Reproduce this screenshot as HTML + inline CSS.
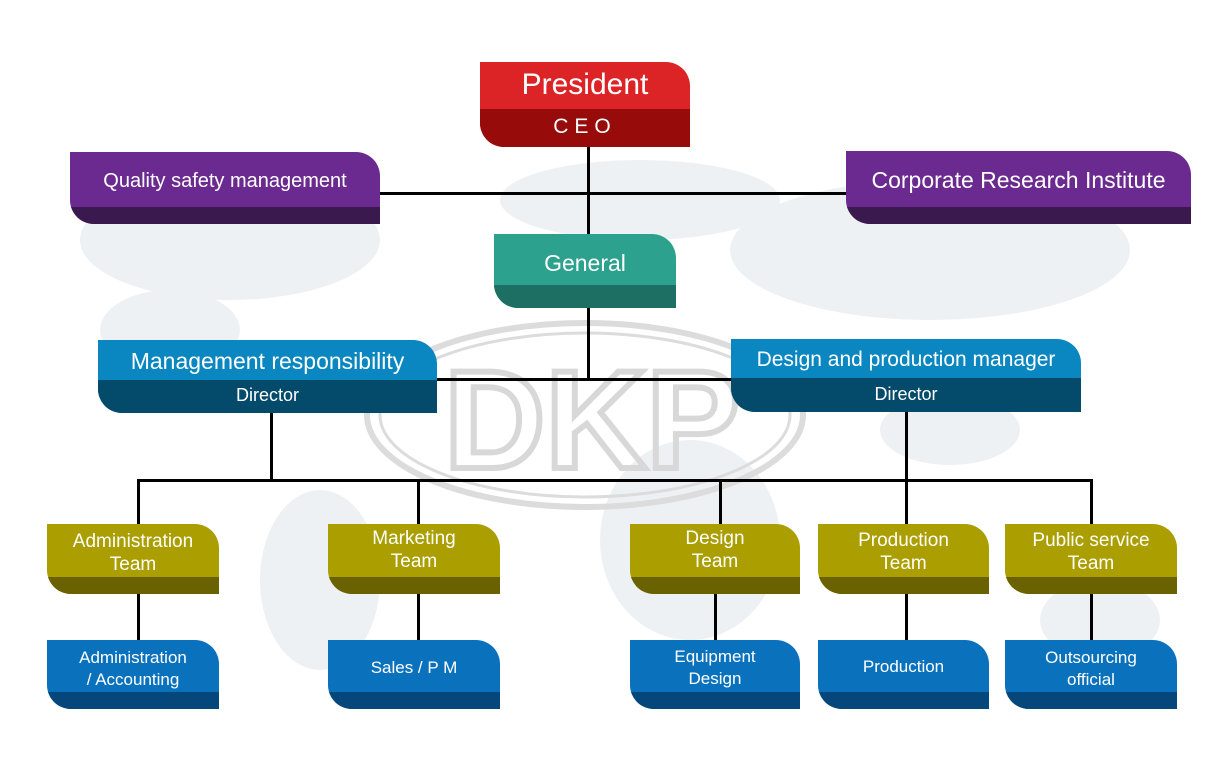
<!DOCTYPE html>
<html><head><style>
body{margin:0;width:1224px;height:770px;background:#fff;position:relative;overflow:hidden;font-family:"Liberation Sans",sans-serif}
.b{position:absolute;border-radius:0 24px 0 24px;overflow:hidden;color:#fff;text-align:center}
.b .t{position:absolute;left:0;right:0;top:0}
.b .s{position:absolute;left:0;right:0;bottom:0}
.l{position:absolute;background:#000}
</style></head><body>
<svg width="1224" height="770" style="position:absolute;left:0;top:0">
<g fill="#eef1f4">
<ellipse cx="230" cy="240" rx="150" ry="60"/><ellipse cx="170" cy="330" rx="70" ry="40"/>
<ellipse cx="320" cy="580" rx="60" ry="90"/><ellipse cx="640" cy="200" rx="140" ry="40"/>
<ellipse cx="690" cy="540" rx="90" ry="100"/><ellipse cx="930" cy="250" rx="200" ry="70"/>
<ellipse cx="1100" cy="620" rx="60" ry="40"/><ellipse cx="950" cy="430" rx="70" ry="35"/>
</g>
<g fill="none" stroke="#dcdcdc" stroke-width="6">
<ellipse cx="585" cy="415" rx="218" ry="92"/>
<ellipse cx="585" cy="415" rx="205" ry="82" stroke-width="3"/>
</g>
<text x="592" y="468" font-family="Liberation Sans" font-weight="bold" font-size="140" fill="none" stroke="#d8d8d8" stroke-width="6" text-anchor="middle">DKP</text>
</svg>
<div class="l" style="left:587px;top:147px;width:3px;height:88px"></div>
<div class="l" style="left:380px;top:192px;width:466px;height:3px"></div>
<div class="l" style="left:587px;top:308px;width:3px;height:72px"></div>
<div class="l" style="left:437px;top:378px;width:294px;height:3px"></div>
<div class="l" style="left:270px;top:413px;width:3px;height:68px"></div>
<div class="l" style="left:905px;top:412px;width:3px;height:69px"></div>
<div class="l" style="left:137px;top:479px;width:956px;height:3px"></div>
<div class="l" style="left:137px;top:479px;width:3px;height:161px"></div>
<div class="l" style="left:417px;top:479px;width:3px;height:161px"></div>
<div class="l" style="left:719px;top:479px;width:3px;height:46px"></div>
<div class="l" style="left:714px;top:594px;width:3px;height:46px"></div>
<div class="l" style="left:905px;top:479px;width:3px;height:161px"></div>
<div class="l" style="left:1090px;top:479px;width:3px;height:161px"></div>

<div class="b" style="left:480px;top:62px;width:210px;height:85px;background:#dc2326"><div class="t" style="top:6px;font-size:30px">President</div><div class="s" style="height:38px;background:#970b0b;font-size:21px;line-height:36px;letter-spacing:6px">CEO</div></div>
<div class="b" style="left:70px;top:152px;width:310px;height:72px;background:#6a2a8f"><div class="t" style="top:18px;font-size:20px">Quality safety management</div><div class="s" style="height:17px;background:#3a1a4e"></div></div>
<div class="b" style="left:846px;top:151px;width:345px;height:73px;background:#6a2a8f"><div class="t" style="top:16px;font-size:23px">Corporate Research Institute</div><div class="s" style="height:17px;background:#3a1a4e"></div></div>
<div class="b" style="left:494px;top:234px;width:182px;height:74px;background:#2ca18e"><div class="t" style="top:16px;font-size:23px">General</div><div class="s" style="height:23px;background:#1d6f63"></div></div>
<div class="b" style="left:98px;top:340px;width:339px;height:73px;background:#0a86c0"><div class="t" style="top:8px;font-size:23px">Management responsibility</div><div class="s" style="height:33px;background:#044a6a;font-size:18px;line-height:30px">Director</div></div>
<div class="b" style="left:731px;top:339px;width:350px;height:73px;background:#0a86c0"><div class="t" style="top:9px;font-size:21px">Design and production manager</div><div class="s" style="height:34px;background:#044a6a;font-size:18px;line-height:32px">Director</div></div>

<div class="b" style="left:47px;top:524px;width:172px;height:70px;background:#aa9e00"><div class="t" style="top:6px;font-size:19px;line-height:23px">Administration<br>Team</div><div class="s" style="height:17px;background:#6a6200"></div></div>
<div class="b" style="left:328px;top:524px;width:172px;height:70px;background:#aa9e00"><div class="t" style="top:3px;font-size:19px;line-height:23px">Marketing<br>Team</div><div class="s" style="height:17px;background:#6a6200"></div></div>
<div class="b" style="left:630px;top:524px;width:170px;height:70px;background:#aa9e00"><div class="t" style="top:3px;font-size:19px;line-height:23px">Design<br>Team</div><div class="s" style="height:17px;background:#6a6200"></div></div>
<div class="b" style="left:818px;top:524px;width:171px;height:70px;background:#aa9e00"><div class="t" style="top:5px;font-size:19px;line-height:23px">Production<br>Team</div><div class="s" style="height:17px;background:#6a6200"></div></div>
<div class="b" style="left:1005px;top:524px;width:172px;height:70px;background:#aa9e00"><div class="t" style="top:5px;font-size:19px;line-height:23px">Public service<br>Team</div><div class="s" style="height:17px;background:#6a6200"></div></div>

<div class="b" style="left:47px;top:640px;width:172px;height:69px;background:#0a72bd"><div class="t" style="top:7px;font-size:17px;line-height:22px">Administration<br>/ Accounting</div><div class="s" style="height:17px;background:#05477a"></div></div>
<div class="b" style="left:328px;top:640px;width:172px;height:69px;background:#0a72bd"><div class="t" style="top:18px;font-size:17px">Sales / P M</div><div class="s" style="height:17px;background:#05477a"></div></div>
<div class="b" style="left:630px;top:640px;width:170px;height:69px;background:#0a72bd"><div class="t" style="top:6px;font-size:17px;line-height:22px">Equipment<br>Design</div><div class="s" style="height:17px;background:#05477a"></div></div>
<div class="b" style="left:818px;top:640px;width:171px;height:69px;background:#0a72bd"><div class="t" style="top:17px;font-size:17px">Production</div><div class="s" style="height:17px;background:#05477a"></div></div>
<div class="b" style="left:1005px;top:640px;width:172px;height:69px;background:#0a72bd"><div class="t" style="top:7px;font-size:17px;line-height:22px">Outsourcing<br>official</div><div class="s" style="height:17px;background:#05477a"></div></div>
</body></html>
